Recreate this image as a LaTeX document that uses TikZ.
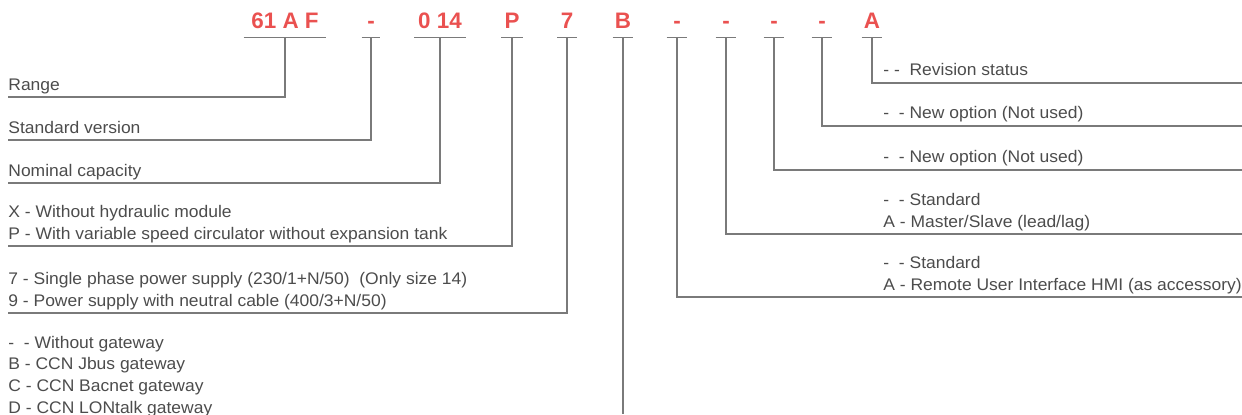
\documentclass[tikz,border=0pt]{standalone}
\usepackage{fontspec}
\setmainfont{Liberation Sans}
\newfontfamily\lblfont[FakeStretch=1.04]{Liberation Sans}
\usetikzlibrary{positioning}
\definecolor{codeRed}{HTML}{EA5150}
\definecolor{textGray}{HTML}{4C4C4C}
\definecolor{lineGray}{HTML}{7A7A7A}
\tikzset{
  code/.style ={font=\fontsize{11.2}{13}\selectfont\bfseries, text=codeRed, inner xsep=0pt, inner ysep=4.5pt, text depth=0pt, anchor=base},
  lbl/.style  ={font=\lblfont\fontsize{8.4}{10}\selectfont, text=textGray, inner sep=0pt, text height=6.3pt, text depth=2.1pt, anchor=base west},
  uline/.style={draw=lineGray, line width=0.65pt},
  lead/.style ={draw=lineGray, line width=0.65pt},
}
\begin{document}
\begin{tikzpicture}[x=0.5pt, y=-0.5pt]
  \useasboundingbox (0,0) rectangle (1242,414);
  % model code
  \node[code, minimum width=41pt]   (cRange) at (285,28) {61 A F};
  \node[code, minimum width=9pt]    (cStd)   at (371,28) {-};
  \node[code, minimum width=25.5pt] (cCap)   at (440,28) {0 14};
  \node[code, minimum width=10.5pt] (cHyd)   at (512,28) {P};
  \node[code, minimum width=9.5pt]  (cPow)   at (567,28) {7};
  \node[code, minimum width=10pt]   (cGw)    at (623,28) {B};
  \node[code, minimum width=10pt]   (cHmi)   at (677,28) {-};
  \node[code, minimum width=10pt]   (cMs)    at (726,28) {-};
  \node[code, minimum width=10pt]   (cNewB)  at (774,28) {-};
  \node[code, minimum width=10pt]   (cNewA)  at (822,28) {-};
  \node[code, minimum width=10pt]   (cRev)   at (872,28) {A};
  \foreach \c in {cRange,cStd,cCap,cHyd,cPow,cGw,cHmi,cMs,cNewB,cNewA,cRev}
    \draw[uline] (\c.south west) -- (\c.south east);

  % left side
  \node[lbl] (range) at (8,90)    {Range};
  \node[lbl] (std)   at (8,133)   {Standard version};
  \node[lbl] (cap)   at (8,176)   {Nominal capacity};
  \node[lbl] (hydX)  at (8,217.5) {X - Without hydraulic module};
  \node[lbl, below=2.1pt of hydX.south west, anchor=north west] (hydP)
        {P - With variable speed circulator without expansion tank};
  \node[lbl] (powS)  at (8,284.5) {7 - Single phase power supply (230/1+N/50)\ \ (Only size 14)};
  \node[lbl, below=2.1pt of powS.south west, anchor=north west] (powN)
        {9 - Power supply with neutral cable (400/3+N/50)};
  \node[lbl] (gwNone) at (8,348) {-~ - Without gateway};
  \node[lbl, below=2.1pt of gwNone.south west, anchor=north west] (gwB) {B - CCN Jbus gateway};
  \node[lbl, below=2.1pt of gwB.south west, anchor=north west]    (gwC) {C - CCN Bacnet gateway};
  \node[lbl, below=2.1pt of gwC.south west, anchor=north west]    (gwD) {D - CCN LONtalk gateway};

  % right side
  \node[lbl] (rev)   at (883,75.5)  {- -~ Revision status};
  \node[lbl] (newA)  at (883,118.5) {-~ - New option (Not used)};
  \node[lbl] (newB)  at (883,162.5) {-~ - New option (Not used)};
  \node[lbl] (msStd) at (883,205.5) {-~ - Standard};
  \node[lbl, below=2.1pt of msStd.south west, anchor=north west] (msA)
        {A - Master/Slave (lead/lag)};
  \node[lbl] (hmiStd) at (883,268.5) {-~ - Standard};
  \node[lbl, below=2.1pt of hmiStd.south west, anchor=north west] (hmiA)
        {A - Remote User Interface HMI (as accessory)};

  \coordinate (rangeEnd) at (8,97);
  \coordinate (stdEnd)   at (8,140);
  \coordinate (capEnd)   at (8,183);
  \coordinate (hydEnd)   at (8,246);
  \coordinate (powEnd)   at (8,313);
  \coordinate (gwEnd)    at (623,414);
  \coordinate (hmiEnd)   at (1242,297);
  \coordinate (msEnd)    at (1242,234);
  \coordinate (newBEnd)  at (1242,170);
  \coordinate (newAEnd)  at (1242,126);
  \coordinate (revEnd)   at (1242,83);

  \draw[lead] (cRange.south) |- (rangeEnd);
  \draw[lead] (cStd.south)   |- (stdEnd);
  \draw[lead] (cCap.south)   |- (capEnd);
  \draw[lead] (cHyd.south)   |- (hydEnd);
  \draw[lead] (cPow.south)   |- (powEnd);
  \draw[lead] (cGw.south)    -- (gwEnd);
  \draw[lead] (cHmi.south)   |- (hmiEnd);
  \draw[lead] (cMs.south)    |- (msEnd);
  \draw[lead] (cNewB.south)  |- (newBEnd);
  \draw[lead] (cNewA.south)  |- (newAEnd);
  \draw[lead] (cRev.south)   |- (revEnd);
\end{tikzpicture}
\end{document}
